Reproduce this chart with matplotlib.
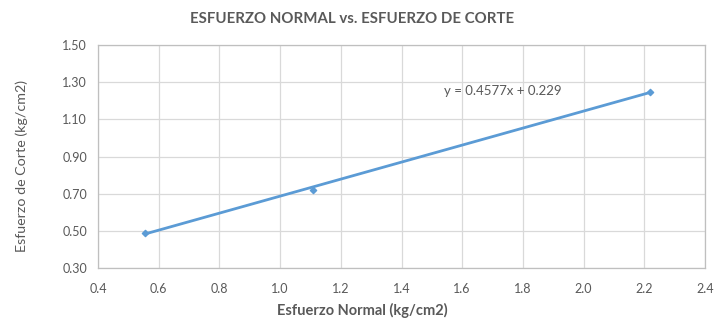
import matplotlib
matplotlib.use("Agg")
import matplotlib.pyplot as plt
import numpy as np

# Ensayo de corte directo: esfuerzo normal vs esfuerzo de corte
esfuerzo_normal = [0.555, 1.11, 2.22]
esfuerzo_corte = [0.49, 0.72, 1.245]
pendiente = 0.4577
intercepto = 0.229

x_ticks = [0.4, 0.6, 0.8, 1.0, 1.2, 1.4, 1.6, 1.8, 2.0, 2.2, 2.4]
y_ticks = [0.30, 0.50, 0.70, 0.90, 1.10, 1.30, 1.50]

plt.rcParams['font.family'] = ['Lato', 'DejaVu Sans']

W, H = 715, 322
fig = plt.figure(figsize=(W / 100, H / 100), dpi=100)
ax = fig.add_axes([98 / W, 1 - 268 / H, 607 / W, 223 / H])

azul = '#5b9bd5'
texto = '#595959'

ax.scatter(esfuerzo_normal, esfuerzo_corte, marker='D', s=10, color=azul, zorder=3)
xt = np.array([min(esfuerzo_normal), max(esfuerzo_normal)])
ax.plot(xt, pendiente * xt + intercepto, color=azul, lw=2.0, zorder=2)

ax.set_xlim(0.4, 2.4)
ax.set_ylim(0.30, 1.50)
ax.set_xticks(x_ticks)
ax.set_yticks(y_ticks)
ax.set_xticklabels([f"{v:.1f}" for v in x_ticks])
ax.set_yticklabels([f"{v:.2f}" for v in y_ticks])
ax.grid(True, color='#d9d9d9', lw=0.9)
ax.set_axisbelow(True)
ax.tick_params(length=0, labelsize=9, colors=texto)
ax.tick_params(axis='x', pad=11)
ax.tick_params(axis='y', pad=8)
for s in ax.spines.values():
    s.set_color('#bfbfbf')
    s.set_linewidth(0.9)

ax.text(1.735, 1.255, f"y = {pendiente}x + {intercepto}", fontsize=9.5,
        color=texto, ha='center', va='center')

fig.text(362 / W, 1 - 310 / H, "Esfuerzo Normal (kg/cm2)", fontsize=10.5,
         fontweight='bold', color=texto, ha='center', va='center')
fig.text(22 / W, 1 - 166 / H, "Esfuerzo de Corte (kg/cm2)", fontsize=10.3,
         color=texto, ha='center', va='center', rotation=90)
fig.text(352 / W, 1 - 19 / H, "ESFUERZO NORMAL vs. ESFUERZO DE CORTE",
         fontsize=10.8, fontweight='bold', color=texto, ha='center', va='center')

fig.savefig("out.png", dpi=100)
